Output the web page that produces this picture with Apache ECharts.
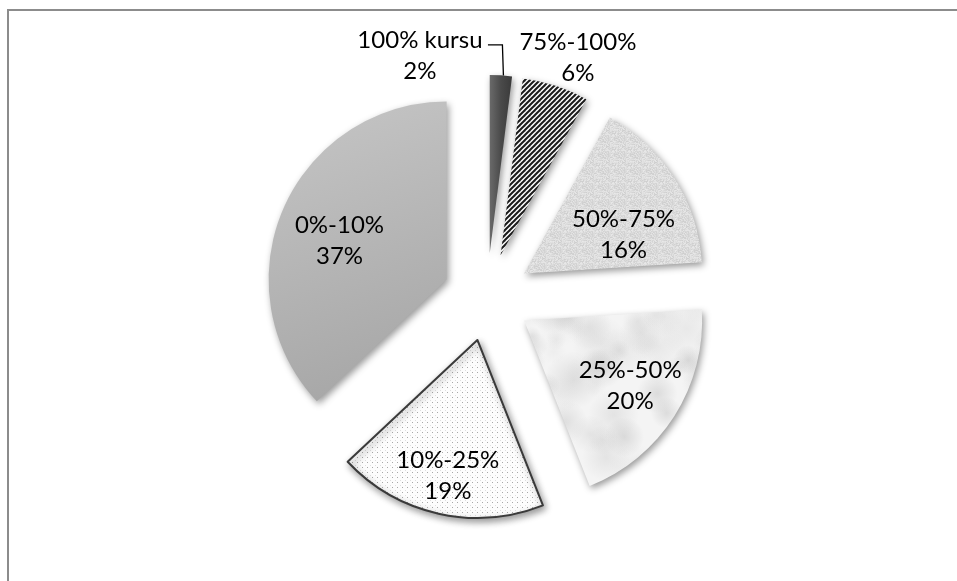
<!DOCTYPE html>
<html><head><meta charset="utf-8">
<script src="https://cdn.jsdelivr.net/npm/echarts@6/dist/echarts.min.js"></script>
<style>html,body{margin:0;padding:0;background:#fff}#c{width:957px;height:581px}</style>
</head><body><div id="c"></div>
<script>
// ---- data ----
const categories = ['100% kursu', '75%-100%', '50%-75%', '25%-50%', '10%-25%', '0%-10%'];
const shares = [2, 6, 16, 20, 19, 37];

// ---- layout constants (not data) ----
const CX = 487, CY = 297, R = 178, EXPLODE = 44;
// label placement relative to each slice's own apex: [angle clockwise from top (deg), distance as fraction of R]
const labelPlacement = [[-19.5, 1.175], [21.4, 1.19], [68.5, 0.60], [121.7, 0.70], [192.3, 0.78], [289.9, 0.64]];

function mk(w, h, draw) { const c = document.createElement('canvas'); c.width = w; c.height = h; draw(c.getContext('2d'), w, h); return c; }
// deterministic hash for texture only
const hash = (x, y) => { const s = Math.sin(x * 127.1 + y * 311.7) * 43758.5453; return s - Math.floor(s); };
const stripes = mk(5, 5, (g, w, h) => {
  g.fillStyle = '#fff'; g.fillRect(0, 0, w, h);
  g.strokeStyle = '#1a1a1a'; g.lineWidth = 2;
  for (let k = -1; k <= 1; k++) { g.beginPath(); g.moveTo(k * w - 1, h + 1); g.lineTo(k * w + w + 1, -1); g.stroke(); }
});
const weave = mk(16, 16, (g, w, h) => {
  for (let y = 0; y < h; y++) for (let x = 0; x < w; x++) {
    const v = Math.round(206 + hash(x, y) * 26);
    g.fillStyle = 'rgb(' + v + ',' + v + ',' + v + ')'; g.fillRect(x, y, 1, 1);
  }
});
const dots = mk(5, 5, (g) => {
  g.fillStyle = '#fdfdfd'; g.fillRect(0, 0, 5, 5);
  g.fillStyle = '#a8a8a8'; g.fillRect(2, 2, 1, 1);
  g.fillStyle = '#e0e0e0'; g.fillRect(0, 0, 1, 1);
});
const marble = mk(260, 260, (g, w, h) => {
  g.fillStyle = '#f4f4f4'; g.fillRect(0, 0, w, h);
  for (let i = 0; i < 120; i++) {
    const x = hash(i, 1) * w, y = hash(i, 2) * h;
    const r = 5 + hash(i, 3) * 24;
    const a = 0.12 + hash(i, 4) * 0.22;
    const c = Math.round(150 + hash(i, 5) * 50);
    const gr = g.createRadialGradient(x, y, 0, x, y, r);
    gr.addColorStop(0, 'rgba(' + c + ',' + c + ',' + c + ',' + a + ')');
    gr.addColorStop(1, 'rgba(' + c + ',' + c + ',' + c + ',0)');
    g.fillStyle = gr; g.beginPath(); g.arc(x, y, r, 0, Math.PI * 2); g.fill();
  }
});

const shadow = { shadowBlur: 7, shadowOffsetX: 2, shadowOffsetY: 3, shadowColor: 'rgba(0,0,0,0.4)' };
const fills = [
  { color: { type: 'linear', x: 0, y: 0, x2: 1, y2: 0, colorStops: [{ offset: 0, color: '#6a6a6a' }, { offset: 0.5, color: '#4a4a4a' }, { offset: 1, color: '#3a3a3a' }] }, borderWidth: 0 },
  { color: { image: stripes, repeat: 'repeat' }, borderWidth: 0 },
  { color: { image: weave, repeat: 'repeat' }, borderWidth: 0 },
  { color: { image: marble, repeat: 'repeat' }, borderWidth: 0 },
  { color: { image: dots, repeat: 'repeat' }, borderColor: '#3a3a3a', borderWidth: 2 },
  { color: { type: 'linear', x: 0, y: 0, x2: 0.6, y2: 1, colorStops: [{ offset: 0, color: '#c6c6c6' }, { offset: 1, color: '#a6a6a6' }] }, borderWidth: 0 }
];

const total = shares.reduce((a, b) => a + b, 0);
const starts = []; const mids = [];
{ let acc = 0; shares.forEach(v => { starts.push(acc); mids.push((acc + v / 2) / total * 360); acc += v; }); }
const rad = d => d * Math.PI / 180;
function apex(i) { return [CX + EXPLODE * Math.sin(rad(mids[i])), CY - EXPLODE * Math.cos(rad(mids[i]))]; }

const hidden = { itemStyle: { color: 'rgba(0,0,0,0)', borderWidth: 0 }, label: { show: false }, labelLine: { show: false }, emphasis: { disabled: true } };

const series = categories.map((name, i) => ({
  type: 'pie',
  center: apex(i),
  radius: [0, R],
  startAngle: 90,
  clockwise: true,
  silent: true,
  avoidLabelOverlap: false,
  emphasis: { disabled: true },
  label: {
    show: true,
    position: 'outside',
    formatter: p => p.name + '\n' + Math.round(p.value / total * 100) + '%',
    fontFamily: 'Lato',
    fontSize: 24,
    lineHeight: 31,
    color: '#000',
    align: 'center'
  },
  labelLine: { show: i === 0, lineStyle: { color: '#000', width: 1.3 } },
  labelLayout: function (p) {
    if (p.dataIndex !== 1) return {};
    const a = apex(i);
    const pl = labelPlacement[i];
    const x = a[0] + pl[1] * R * Math.sin(rad(pl[0]));
    const y = a[1] - pl[1] * R * Math.cos(rad(pl[0]));
    const out = { x, y, align: 'center', verticalAlign: 'middle' };
    if (i === 0) {
      const top = [a[0] + R * Math.sin(rad(mids[i] + 0.8)), a[1] - R * Math.cos(rad(mids[i] + 0.8))];
      const yLine = y - 11;
      out.labelLinePoints = [top, [top[0] - 1, yLine], [x + 68, yLine]];
    }
    return out;
  },
  data: [
    Object.assign({ name: '', value: starts[i] }, hidden),
    { name, value: shares[i], itemStyle: Object.assign({}, fills[i], shadow) },
    Object.assign({ name: '', value: total - starts[i] - shares[i] }, hidden)
  ]
}));

const chart = echarts.init(document.getElementById('c'), null, { renderer: 'canvas' });
chart.setOption({
  animation: false,
  backgroundColor: '#fff',
  graphic: [
    { type: 'line', shape: { x1: 7, y1: 10, x2: 957, y2: 10 }, style: { stroke: '#8c8c8c', lineWidth: 2 } },
    { type: 'line', shape: { x1: 8, y1: 9, x2: 8, y2: 581 }, style: { stroke: '#8c8c8c', lineWidth: 2 } }
  ],
  series
});
</script></body></html>
